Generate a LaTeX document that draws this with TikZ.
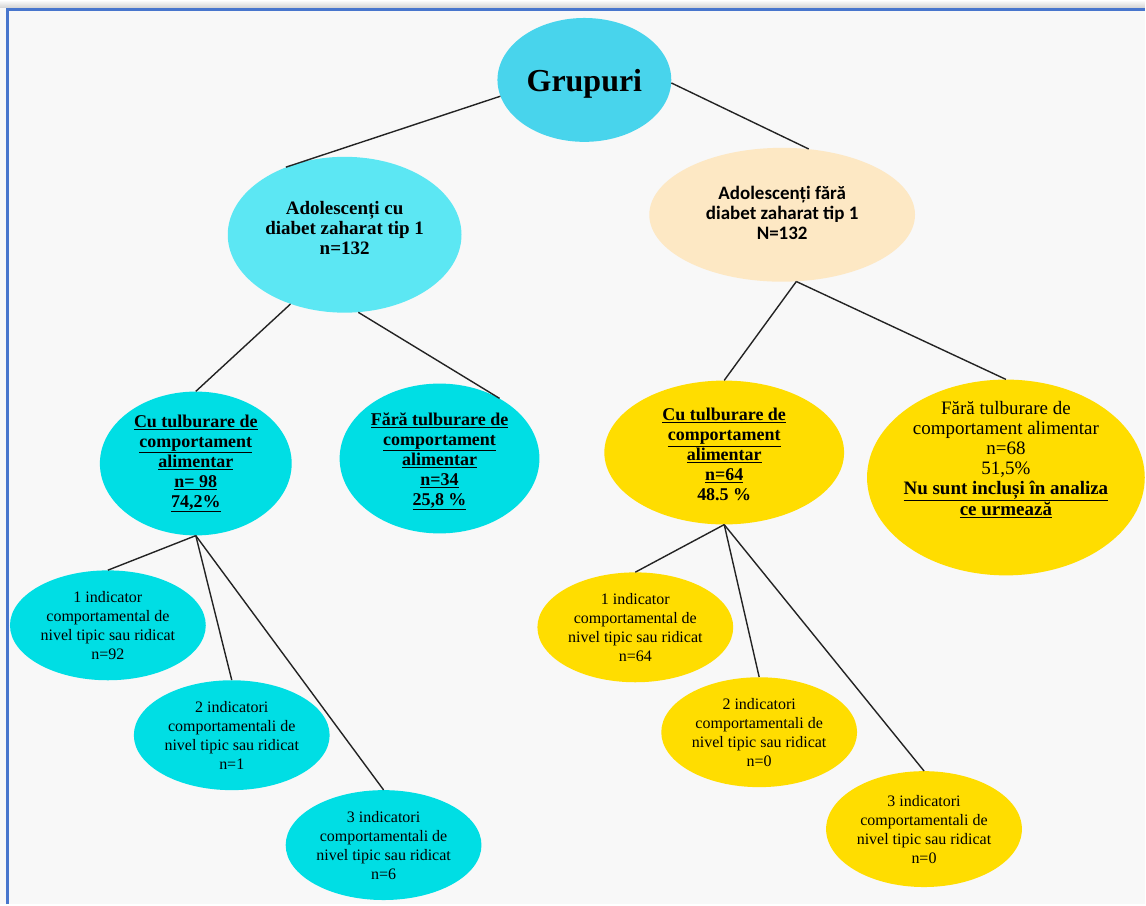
\documentclass[tikz,border=0pt]{standalone}
\usepackage{fontspec}
\usepackage{xcolor}
\usepackage{tikz}
\setmainfont{Liberation Serif}
\newfontfamily\calibri{Carlito}
\usetikzlibrary{shapes.geometric}

\definecolor{bgGray}{RGB}{248,248,248}
\definecolor{frameBlue}{RGB}{72,118,205}
\definecolor{skyCyan}{RGB}{72,212,236}
\definecolor{lightCyan}{RGB}{92,231,243}
\definecolor{deepCyan}{RGB}{0,222,228}
\definecolor{peach}{RGB}{253,232,196}
\definecolor{gold}{RGB}{255,221,0}
\definecolor{lineGray}{RGB}{35,35,35}

\tikzset{
    bubble/.style={ellipse, inner sep=0pt, draw=none},
    leaf/.style={bubble, minimum width=196pt, minimum height=110pt},
    link/.style={draw=lineGray, line width=1.4pt},
    txt/.style={align=center, inner sep=0pt},
    leaftxt/.style={txt, font=\fontsize{16}{19}\selectfont},
    midtxt/.style={txt, font=\fontsize{18}{20}\selectfont\bfseries}
}

\begin{document}
\begin{tikzpicture}[x=1pt, y=-1pt]
    % Background and frame
    \fill[bgGray] (0,0) rectangle (1146,905);
    \shade[top color=white, bottom color=black!18] (0,0) rectangle (1146,8);
    \draw[frameBlue, line width=2.5pt] (7.5,905) -- (7.5,9.5) -- (1146,9.5);
    \useasboundingbox (0,0) rectangle (1146,905);

    % Root
    \node[bubble, fill=skyCyan, minimum width=174pt, minimum height=124pt] (grp) at (585,80) {};
    \node[txt, font=\fontsize{32}{36}\selectfont\bfseries] (grpT) at ([yshift=-4pt]grp.center) {Grupuri};

    % Level 1
    \node[bubble, fill=lightCyan, minimum width=234pt, minimum height=156pt] (l1a) at (345,235) {};
    \node[txt, font=\fontsize{19}{20}\selectfont\bfseries] (l1aT) at ([yshift=7pt]l1a.center)
        {Adolescenți cu\\diabet zaharat tip 1\\n=132};
    \node[bubble, fill=peach, minimum width=266pt, minimum height=134pt] (l1b) at (783,215) {};
    \node[txt, font=\fontsize{19}{20}\selectfont\calibri\bfseries] (l1bT) at ([yshift=2pt]l1b.center)
        {Adolescenți fără\\diabet zaharat tip 1\\N=132};

    % Level 2
    \node[bubble, fill=deepCyan, minimum width=192pt, minimum height=144pt] (l2a) at (196,464) {};
    \node[midtxt] (l2aT) at (l2a.center)
        {\underline{Cu tulburare de}\\\underline{comportament}\\\underline{alimentar}\\\underline{n= 98}\\\underline{74,2\%}};
    \node[bubble, fill=deepCyan, minimum width=200pt, minimum height=150pt] (l2b) at (440,459) {};
    \node[midtxt] (l2bT) at ([yshift=-3pt]l2b.center)
        {\underline{Fără tulburare de}\\\underline{comportament}\\\underline{alimentar}\\\underline{n=34}\\\underline{25,8 \%}};
    \node[bubble, fill=gold, minimum width=240pt, minimum height=144pt] (l2c) at (725,453) {};
    \node[midtxt] (l2cT) at ([yshift=-2pt]l2c.center)
        {\underline{Cu tulburare de}\\\underline{comportament}\\\underline{alimentar}\\\underline{n=64}\\48.5 \%};
    \node[bubble, fill=gold, minimum width=278pt, minimum height=196pt] (l2d) at (1007,478) {};
    \node[txt, font=\fontsize{19}{20}\selectfont] (l2dT) at ([yshift=18pt]l2d.center)
        {Fără tulburare de\\comportament alimentar\\n=68\\51,5\%\\
         \textbf{\underline{Nu sunt incluși în analiza}}\\\textbf{\underline{ce urmează}}};

    % Level 3, left branch
    \node[leaf, fill=deepCyan] (l3a) at (108,626) {};
    \node[leaftxt] (l3aT) at (l3a.center) {1 indicator\\comportamental de\\nivel tipic sau ridicat\\n=92};
    \node[leaf, fill=deepCyan] (l3b) at (232,736) {};
    \node[leaftxt] (l3bT) at (l3b.center) {2 indicatori\\comportamentali de\\nivel tipic sau ridicat\\n=1};
    \node[leaf, fill=deepCyan] (l3c) at (384,846) {};
    \node[leaftxt] (l3cT) at (l3c.center) {3 indicatori\\comportamentali de\\nivel tipic sau ridicat\\n=6};

    % Level 3, right branch
    \node[leaf, fill=gold] (l3d) at (636,628) {};
    \node[leaftxt] (l3dT) at (l3d.center) {1 indicator\\comportamental de\\nivel tipic sau ridicat\\n=64};
    \node[leaf, fill=gold] (l3e) at (760,733) {};
    \node[leaftxt] (l3eT) at (l3e.center) {2 indicatori\\comportamentali de\\nivel tipic sau ridicat\\n=0};
    \node[leaf, fill=gold, minimum height=116pt] (l3f) at (925,830) {};
    \node[leaftxt] (l3fT) at (l3f.center) {3 indicatori\\comportamentali de\\nivel tipic sau ridicat\\n=0};

    % Connectors
    \draw[link] (grp.191) -- (l1a.131);
    \draw[link] (grp.-2) -- (l1b.68);
    \draw[link] (l1a.-128) -- (l2a.north);
    \draw[link] (l1a.-80) -- (l2b.45);
    \draw[link] (l1b.-78) -- (l2c.north);
    \draw[link] (l1b.-78) -- (l2d.north);
    \foreach \c in {l3a,l3b,l3c}
        \draw[link] (l2a.south) -- (\c.north);
    \foreach \c in {l3d,l3e,l3f}
        \draw[link] (l2c.south) -- (\c.north);
\end{tikzpicture}
\end{document}
